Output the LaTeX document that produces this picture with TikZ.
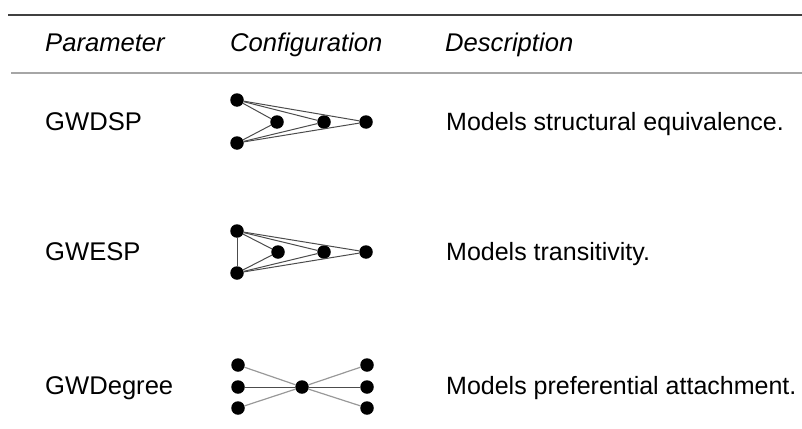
\documentclass[tikz,border=0pt]{standalone}
\usepackage{fontspec}
\setmainfont{Liberation Sans}
\usepackage{xcolor}
\usepackage{tikz}

\begin{document}
\begin{tikzpicture}[x=1pt,y=-1pt]
\tikzstyle{every node}+=[inner sep=0pt]
\tikzstyle{dot}=[circle, fill=black, minimum size=13.5pt]
\tikzstyle{tie}=[draw=black!70, line width=1pt]
\tikzstyle{faint}=[draw=black!40, line width=1.2pt]
\tikzstyle{txt}=[anchor=base west, font=\fontsize{25.6}{30}\selectfont]
\tikzstyle{desc}=[anchor=base west, font=\fontsize{25}{30}\selectfont]
\useasboundingbox (0,0) rectangle (802,428);
\draw [black!75, line width=1.2pt] (8,15) -- (802,15);
\draw [black!35, line width=1.6pt] (11,73) -- (802,73);
\draw (45,52) node [txt] {\itshape Parameter};
\draw (230,52) node [txt] {\itshape Configuration};
\draw (445,52) node [txt] {\itshape Description};
% GWDSP
\draw (45,130) node [txt] {GWDSP};
\draw (446,130) node [desc] {Models structural equivalence.};
\node [dot] (dtl) at (237,100) {};
\node [dot] (dbl) at (237,143) {};
\node [dot] (da) at (277,122) {};
\node [dot] (db) at (324,122) {};
\node [dot] (dc) at (366,122) {};
\draw [tie] (dtl) -- (da);
\draw [tie] (dtl) -- (db);
\draw [tie] (dtl) -- (dc);
\draw [tie] (dbl) -- (da);
\draw [tie] (dbl) -- (db);
\draw [tie] (dbl) -- (dc);
% GWESP
\draw (45,260) node [txt] {GWESP};
\draw (446,260) node [desc] {Models transitivity.};
\node [dot] (etl) at (237,231) {};
\node [dot] (ebl) at (237,273) {};
\node [dot] (ea) at (278,252) {};
\node [dot] (eb) at (324,252) {};
\node [dot] (ec) at (366,252) {};
\draw [tie] (etl) -- (ebl);
\draw [tie] (etl) -- (ea);
\draw [tie] (etl) -- (eb);
\draw [tie] (etl) -- (ec);
\draw [tie] (ebl) -- (ea);
\draw [tie] (ebl) -- (eb);
\draw [tie] (ebl) -- (ec);
% GWDegree
\draw (45,394) node [txt] {GWDegree};
\draw (446,394) node [desc] {Models preferential attachment.};
\node [dot] (gl1) at (238,365) {};
\node [dot] (gl2) at (238,387) {};
\node [dot] (gl3) at (238,408) {};
\node [dot] (gc) at (302,387) {};
\node [dot] (gr1) at (367,365) {};
\node [dot] (gr2) at (367,387) {};
\node [dot] (gr3) at (367,408) {};
\draw [faint] (gl1) -- (gc);
\draw [tie] (gl2) -- (gc);
\draw [faint] (gl3) -- (gc);
\draw [faint] (gc) -- (gr1);
\draw [tie] (gc) -- (gr2);
\draw [faint] (gc) -- (gr3);
\end{tikzpicture}
\end{document}
